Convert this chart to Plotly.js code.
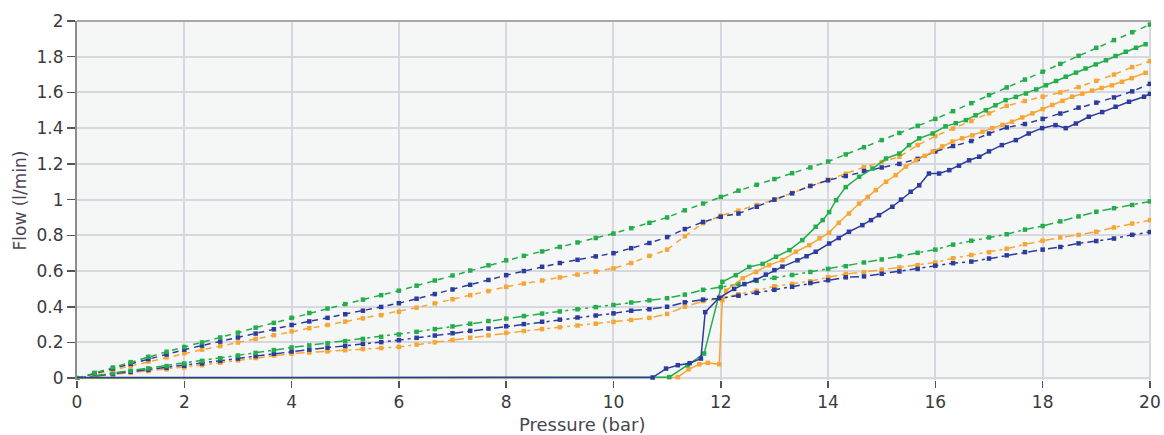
<!DOCTYPE html>
<html>
<head>
<meta charset="utf-8">
<script src="https://cdn.plot.ly/plotly-3.0.1.min.js"></script>
<style>
html,body{margin:0;padding:0;background:#ffffff;}
#chart{width:1164px;height:435px;}
</style>
</head>
<body>
<div id="chart"></div>
<script>
// Pressure sampling of the dashed (reference) curves, bar
const pressureDashed = [0,0.33,0.67,1,1.33,1.67,2,2.33,2.67,3,3.33,3.67,4,4.33,4.67,5,5.33,5.67,6,6.33,6.67,7,7.33,7.67,8,8.33,8.67,9,9.33,9.67,10,10.33,10.67,11,11.33,11.67,12,12.33,12.67,13,13.33,13.67,14,14.33,14.67,15,15.33,15.67,16,16.33,16.67,17,17.33,17.67,18,18.33,18.67,19,19.33,19.67,20];

// Upper dashed curves (l/min)
const greenUpper = [0,0.03,0.06,0.09,0.12,0.148,0.175,0.2,0.228,0.255,0.283,0.31,0.338,0.365,0.39,0.415,0.44,0.465,0.49,0.518,0.547,0.575,0.603,0.632,0.66,0.685,0.71,0.735,0.76,0.785,0.81,0.84,0.87,0.9,0.94,0.978,1.015,1.05,1.083,1.115,1.148,1.18,1.213,1.253,1.293,1.333,1.373,1.413,1.452,1.495,1.54,1.585,1.628,1.672,1.716,1.76,1.805,1.85,1.893,1.937,1.98];
const blueUpper = [0,0.027,0.054,0.08,0.107,0.133,0.16,0.183,0.205,0.228,0.25,0.274,0.298,0.318,0.338,0.358,0.378,0.399,0.42,0.445,0.471,0.497,0.523,0.55,0.577,0.6,0.624,0.645,0.663,0.682,0.7,0.728,0.757,0.79,0.835,0.875,0.904,0.922,0.96,1.0,1.035,1.076,1.108,1.132,1.16,1.18,1.2,1.228,1.27,1.3,1.328,1.37,1.404,1.423,1.452,1.482,1.515,1.543,1.572,1.606,1.648];
const orangeUpper = [0,0.023,0.047,0.07,0.093,0.117,0.14,0.16,0.18,0.2,0.22,0.241,0.262,0.28,0.298,0.317,0.335,0.353,0.372,0.395,0.419,0.442,0.465,0.488,0.512,0.53,0.547,0.564,0.58,0.597,0.615,0.645,0.685,0.72,0.795,0.868,0.91,0.938,0.97,1.0,1.037,1.078,1.112,1.145,1.182,1.21,1.24,1.305,1.356,1.398,1.44,1.483,1.525,1.552,1.576,1.6,1.63,1.665,1.7,1.742,1.775];

// Lower dash-dot curves (l/min)
const greenLower = [0,0.014,0.028,0.042,0.055,0.068,0.082,0.097,0.112,0.127,0.142,0.157,0.172,0.184,0.196,0.208,0.22,0.232,0.245,0.26,0.275,0.29,0.305,0.32,0.334,0.348,0.362,0.374,0.386,0.398,0.41,0.424,0.436,0.448,0.468,0.495,0.51,0.528,0.545,0.562,0.578,0.595,0.612,0.627,0.648,0.665,0.684,0.702,0.72,0.748,0.77,0.788,0.806,0.832,0.852,0.878,0.906,0.932,0.952,0.97,0.99];
const blueLower = [0,0.012,0.024,0.036,0.047,0.058,0.07,0.083,0.097,0.11,0.124,0.137,0.15,0.16,0.171,0.181,0.192,0.202,0.213,0.226,0.239,0.252,0.265,0.278,0.291,0.303,0.316,0.328,0.34,0.351,0.363,0.378,0.386,0.4,0.425,0.44,0.448,0.462,0.478,0.495,0.512,0.533,0.549,0.565,0.57,0.585,0.598,0.612,0.63,0.644,0.653,0.67,0.688,0.706,0.72,0.735,0.755,0.768,0.782,0.803,0.818];
const orangeLower = [0,0.01,0.02,0.03,0.04,0.05,0.06,0.073,0.087,0.1,0.113,0.127,0.138,0.144,0.15,0.157,0.163,0.169,0.175,0.188,0.201,0.214,0.227,0.24,0.254,0.264,0.275,0.285,0.295,0.305,0.315,0.326,0.338,0.36,0.4,0.432,0.445,0.47,0.49,0.515,0.528,0.543,0.565,0.584,0.594,0.608,0.62,0.633,0.648,0.672,0.69,0.705,0.725,0.75,0.77,0.788,0.802,0.82,0.844,0.866,0.885];

// Solid (measured) curves
const blueSolidP = [0,10.73,10.98,11.2,11.42,11.63,11.71,11.97,12.25,12.44,12.65,12.84,13.0,13.15,13.43,13.6,13.77,14.02,14.2,14.39,14.64,14.8,14.95,15.2,15.36,15.54,15.7,15.88,16.07,16.26,16.44,16.63,16.82,17.0,17.24,17.5,17.74,17.99,18.24,18.43,18.62,18.86,19.11,19.36,19.61,19.89,20];
const blueSolid = [0.004,0.004,0.054,0.073,0.084,0.11,0.37,0.45,0.5,0.527,0.55,0.58,0.605,0.625,0.66,0.683,0.708,0.754,0.785,0.82,0.857,0.885,0.913,0.96,1.0,1.044,1.08,1.146,1.146,1.165,1.19,1.22,1.24,1.27,1.305,1.333,1.37,1.4,1.417,1.40,1.426,1.464,1.49,1.52,1.548,1.576,1.592];
const greenSolidP = [0,2.7,5.6,8.0,11.04,11.38,11.69,12.03,12.28,12.53,12.78,13.03,13.28,13.52,13.77,13.9,14.02,14.15,14.33,14.58,14.83,15.08,15.33,15.51,15.7,15.95,16.19,16.38,16.57,16.75,16.94,17.12,17.31,17.5,17.69,17.88,18.06,18.25,18.43,18.62,18.8,18.99,19.18,19.36,19.55,19.74,19.92];
const greenSolid = [0.002,0.002,0.002,0.006,0.006,0.073,0.138,0.54,0.577,0.623,0.64,0.68,0.717,0.773,0.848,0.885,0.93,0.997,1.07,1.128,1.174,1.23,1.258,1.305,1.343,1.37,1.41,1.428,1.445,1.472,1.5,1.528,1.557,1.575,1.594,1.617,1.64,1.664,1.688,1.711,1.734,1.757,1.78,1.804,1.828,1.85,1.87];
const orangeSolidP = [0,11.2,11.4,11.6,11.76,11.97,12.03,12.1,12.41,12.66,12.9,13.15,13.4,13.65,13.84,14.02,14.2,14.39,14.58,14.74,14.89,15.08,15.26,15.45,15.64,15.8,15.95,16.13,16.32,16.5,16.69,16.88,17.06,17.25,17.43,17.62,17.81,18.0,18.18,18.37,18.55,18.74,18.92,19.1,19.29,19.48,19.66,19.92];
const orangeSolid = [0.0,0.006,0.05,0.078,0.086,0.078,0.437,0.49,0.56,0.595,0.633,0.661,0.708,0.745,0.783,0.815,0.87,0.922,0.978,1.015,1.053,1.1,1.137,1.185,1.22,1.245,1.27,1.298,1.325,1.343,1.36,1.38,1.4,1.418,1.436,1.46,1.483,1.507,1.53,1.553,1.576,1.593,1.61,1.625,1.64,1.66,1.68,1.71];

const xTicks = [0,2,4,6,8,10,12,14,16,18,20];
const yTicks = [0,0.2,0.4,0.6,0.8,1,1.2,1.4,1.6,1.8,2];
const yTickText = ['0','0.2','0.4','0.6','0.8','1','1.2','1.4','1.6','1.8','2'];

const GREEN = '#24ad4b', ORANGE = '#f7a636', BLUE = '#2c3b9c';
const UPPER_DASH = '6px,5px';
const LOWER_DASH = '9px,4px,3px,4px';
const FONT = 'DejaVu Sans, Verdana, sans-serif';

function tr(x, y, color, dash, hideFlatMarkers) {
  // the idle (flat, pre-opening) stretch of the measured curves shows no markers
  const mcolors = x.map(function (p) { return (hideFlatMarkers && p < 10.5) ? 'rgba(0,0,0,0)' : color; });
  return {
    x: x, y: y, type: 'scatter', mode: 'lines+markers',
    line: {color: color, width: 1.5, dash: dash},
    marker: {symbol: 'square', size: 4.5, color: mcolors, line: {width: 0}},
    showlegend: false, hoverinfo: 'x+y'
  };
}

const data = [
  tr(pressureDashed, orangeLower, ORANGE, LOWER_DASH, false),
  tr(pressureDashed, blueLower, BLUE, LOWER_DASH, false),
  tr(pressureDashed, greenLower, GREEN, LOWER_DASH, false),
  tr(pressureDashed, orangeUpper, ORANGE, UPPER_DASH, false),
  tr(pressureDashed, blueUpper, BLUE, UPPER_DASH, false),
  tr(pressureDashed, greenUpper, GREEN, UPPER_DASH, false),
  tr(orangeSolidP, orangeSolid, ORANGE, 'solid', true),
  tr(greenSolidP, greenSolid, GREEN, 'solid', true),
  tr(blueSolidP, blueSolid, BLUE, 'solid', true)
];

const tickFont = {family: FONT, size: 17, color: '#3a3a3a'};

const layout = {
  width: 1164, height: 435,
  margin: {l: 77, r: 13, t: 21, b: 55, pad: 0},
  paper_bgcolor: '#ffffff',
  plot_bgcolor: '#f5f7f7',
  showlegend: false,
  xaxis: {
    range: [0, 20.02], tickvals: xTicks, ticktext: xTicks.map(String),
    showgrid: true, gridcolor: '#d7d7df', gridwidth: 2,
    zeroline: false, showline: false,
    ticks: 'outside', ticklen: 7, tickwidth: 1.5, tickcolor: '#555555',
    tickfont: tickFont, fixedrange: true
  },
  yaxis: {
    range: [-0.01, 2.0], tickvals: yTicks, ticktext: yTickText,
    showgrid: true, gridcolor: '#d7d7df', gridwidth: 2,
    zeroline: false, showline: true, linecolor: '#8c8c8c', linewidth: 2,
    ticks: 'outside', ticklen: 8, tickwidth: 1.5, tickcolor: '#555555',
    tickfont: tickFont, fixedrange: true,
    title: {text: 'Flow (l/min)', font: {family: FONT, size: 17, color: '#4e4458'}, standoff: 6}
  },
  shapes: [
    {type: 'line', xref: 'paper', yref: 'paper', x0: 0, x1: 1, y0: 1, y1: 1,
     line: {color: '#a8a8a8', width: 2}}
  ],
  annotations: [
    {text: 'Pressure (bar)', xref: 'paper', yref: 'paper', x: 0.470, y: 0,
     yshift: -44, xanchor: 'center', yanchor: 'middle', showarrow: false,
     font: {family: FONT, size: 18, color: '#464650'}}
  ]
};

Plotly.newPlot('chart', data, layout, {displayModeBar: false, staticPlot: true});
</script>
</body>
</html>
